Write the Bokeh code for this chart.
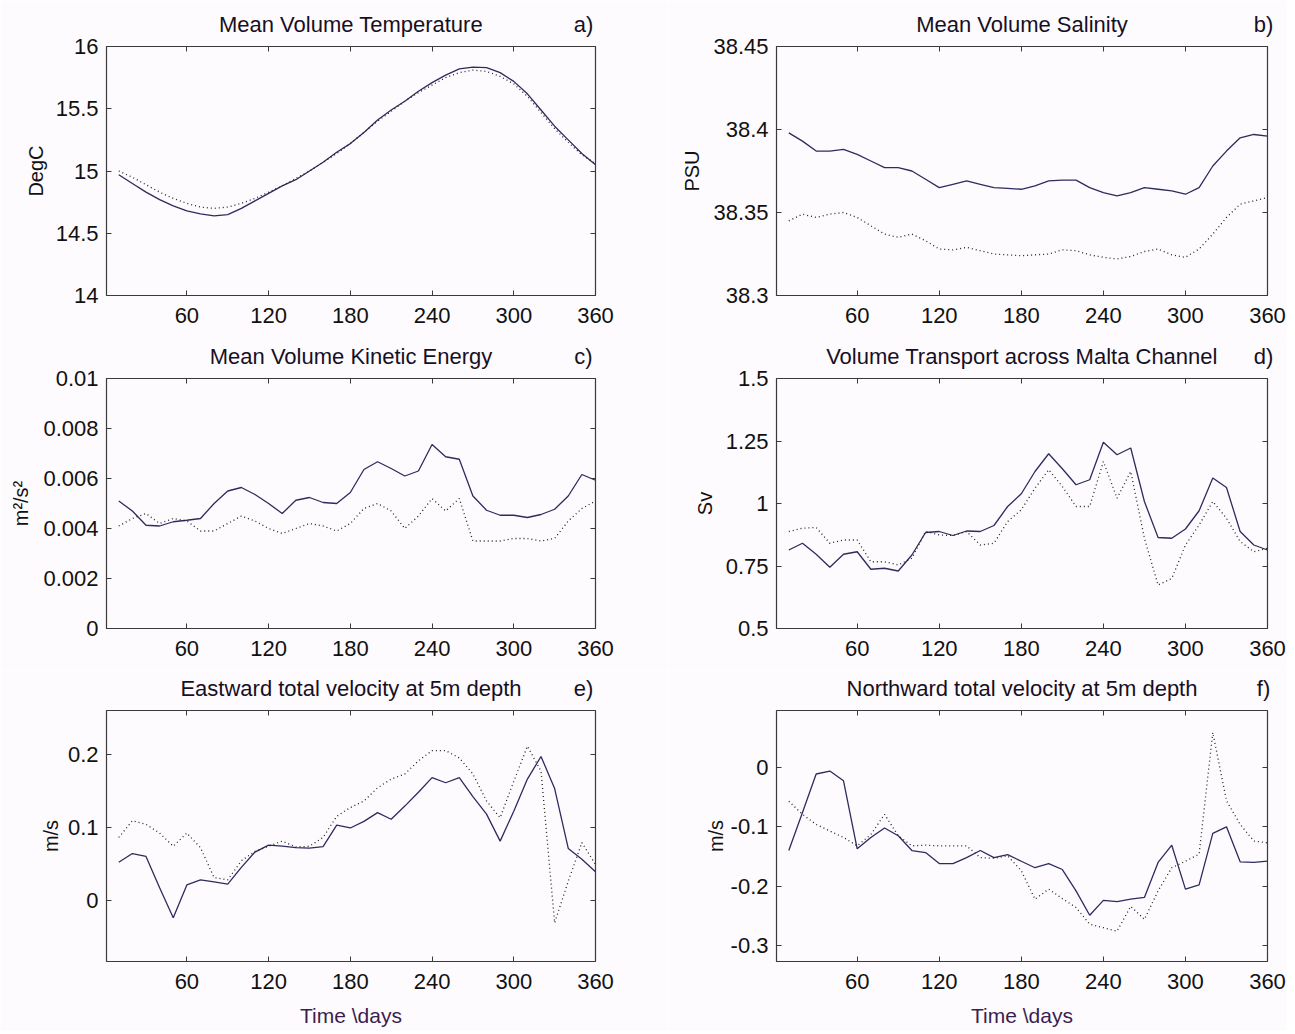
from bokeh.plotting import figure
from bokeh.layouts import gridplot
from bokeh.models import FixedTicker, LinearAxis, Range1d
from bokeh.embed import file_html
from bokeh.resources import INLINE

# ---------------- data ----------------
days = [10, 20, 30, 40, 50, 60, 70, 80, 90, 100, 110, 120, 130, 140, 150, 160, 170, 180,
        190, 200, 210, 220, 230, 240, 250, 260, 270, 280, 290, 300, 310, 320, 330, 340, 350, 360]
x_ticks = [60, 120, 180, 240, 300, 360]
x_tick_labels = ["60", "120", "180", "240", "300", "360"]

temp_solid = [14.97, 14.90, 14.83, 14.77, 14.72, 14.68, 14.655, 14.64, 14.65, 14.70, 14.76, 14.82,
              14.88, 14.93, 15.00, 15.07, 15.15, 15.22, 15.31, 15.41, 15.49, 15.56, 15.64, 15.71,
              15.77, 15.82, 15.835, 15.83, 15.79, 15.72, 15.62, 15.49, 15.36, 15.25, 15.14, 15.05]
temp_dotted = [15.00, 14.95, 14.89, 14.83, 14.78, 14.74, 14.71, 14.70, 14.71, 14.74, 14.78, 14.83,
               14.88, 14.94, 15.00, 15.07, 15.14, 15.22, 15.31, 15.40, 15.48, 15.56, 15.63, 15.69,
               15.75, 15.79, 15.81, 15.80, 15.76, 15.70, 15.60, 15.47, 15.34, 15.23, 15.13, 15.06]
temp_ticks = [14, 14.5, 15, 15.5, 16]
temp_tick_labels = ["14", "14.5", "15", "15.5", "16"]

sal_solid = [38.398, 38.393, 38.387, 38.387, 38.388, 38.385, 38.381, 38.377, 38.377, 38.375, 38.370, 38.365,
             38.367, 38.369, 38.367, 38.365, 38.3645, 38.364, 38.366, 38.369, 38.3695, 38.3695, 38.365, 38.362,
             38.360, 38.362, 38.365, 38.364, 38.363, 38.361, 38.365, 38.378, 38.387, 38.395, 38.397, 38.396]
sal_dotted = [38.345, 38.349, 38.347, 38.349, 38.350, 38.347, 38.342, 38.337, 38.335, 38.337, 38.333, 38.328,
              38.3275, 38.329, 38.327, 38.325, 38.3245, 38.324, 38.3245, 38.325, 38.3275, 38.327, 38.3245, 38.323,
              38.322, 38.3235, 38.3265, 38.328, 38.3245, 38.323, 38.328, 38.337, 38.347, 38.355, 38.357, 38.359]
sal_ticks = [38.3, 38.35, 38.4, 38.45]
sal_tick_labels = ["38.3", "38.35", "38.4", "38.45"]

ke_solid = [0.0051, 0.0047, 0.00413, 0.0041, 0.00427, 0.00433, 0.0044, 0.0050, 0.0055, 0.00564, 0.00536, 0.0050,
            0.0046, 0.00513, 0.00524, 0.00504, 0.0050, 0.00544, 0.00636, 0.00667, 0.0064, 0.0061, 0.0063, 0.00736,
            0.00687, 0.00677, 0.0053, 0.00473, 0.00453, 0.00453, 0.00444, 0.00456, 0.00477, 0.0053, 0.00616, 0.00593]
ke_dotted = [0.0041, 0.0044, 0.0046, 0.0042, 0.0044, 0.0043, 0.0039, 0.0039, 0.0042, 0.0045, 0.0043, 0.0040,
             0.0038, 0.0040, 0.0042, 0.0041, 0.0039, 0.0042, 0.0048, 0.0050, 0.0047, 0.0040, 0.0045, 0.0052,
             0.0047, 0.0052, 0.0035, 0.0035, 0.0035, 0.0036, 0.0036, 0.0035, 0.0036, 0.0043, 0.0048, 0.0051]
ke_ticks = [0, 0.002, 0.004, 0.006, 0.008, 0.01]
ke_tick_labels = ["0", "0.002", "0.004", "0.006", "0.008", "0.01"]

tr_solid = [0.814, 0.841, 0.797, 0.745, 0.797, 0.807, 0.737, 0.741, 0.730, 0.794, 0.884, 0.888,
            0.872, 0.890, 0.888, 0.912, 0.988, 1.039, 1.128, 1.199, 1.139, 1.075, 1.095, 1.245,
            1.195, 1.222, 1.008, 0.864, 0.861, 0.898, 0.971, 1.102, 1.064, 0.888, 0.834, 0.814]
tr_dotted = [0.888, 0.901, 0.904, 0.841, 0.854, 0.854, 0.767, 0.767, 0.754, 0.781, 0.888, 0.874,
             0.872, 0.888, 0.834, 0.841, 0.928, 0.975, 1.061, 1.135, 1.068, 0.988, 0.988, 1.168,
             1.021, 1.128, 0.861, 0.674, 0.700, 0.834, 0.914, 1.008, 0.941, 0.848, 0.807, 0.821]
tr_ticks = [0.5, 0.75, 1, 1.25, 1.5]
tr_tick_labels = ["0.5", "0.75", "1", "1.25", "1.5"]

u_solid = [0.052, 0.064, 0.060, 0.017, -0.024, 0.021, 0.028, 0.025, 0.022, 0.045, 0.066, 0.0755,
           0.074, 0.072, 0.0715, 0.0735, 0.103, 0.099, 0.108, 0.120, 0.111, 0.129, 0.148, 0.168,
           0.161, 0.168, 0.142, 0.118, 0.081, 0.122, 0.166, 0.197, 0.153, 0.071, 0.056, 0.039]
u_dotted = [0.086, 0.109, 0.104, 0.092, 0.074, 0.092, 0.072, 0.031, 0.028, 0.054, 0.067, 0.074,
            0.081, 0.073, 0.074, 0.086, 0.115, 0.127, 0.136, 0.154, 0.166, 0.173, 0.191, 0.205,
            0.205, 0.195, 0.173, 0.136, 0.113, 0.163, 0.211, 0.177, -0.031, 0.026, 0.079, 0.049]
u_ticks = [0, 0.1, 0.2]
u_tick_labels = ["0", "0.1", "0.2"]

v_solid = [-0.140, -0.076, -0.011, -0.006, -0.0225, -0.137, -0.118, -0.102, -0.115, -0.140, -0.1435, -0.162,
           -0.162, -0.152, -0.140, -0.152, -0.147, -0.158, -0.169, -0.162, -0.172, -0.208, -0.249, -0.224,
           -0.226, -0.222, -0.219, -0.160, -0.131, -0.205, -0.198, -0.111, -0.100, -0.159, -0.160, -0.158]
v_dotted = [-0.057, -0.079, -0.096, -0.107, -0.118, -0.132, -0.113, -0.079, -0.115, -0.132, -0.131, -0.132,
            -0.132, -0.132, -0.152, -0.153, -0.149, -0.174, -0.222, -0.205, -0.221, -0.236, -0.264, -0.270,
            -0.276, -0.234, -0.256, -0.208, -0.169, -0.158, -0.146, 0.059, -0.056, -0.096, -0.124, -0.127]
v_ticks = [-0.3, -0.2, -0.1, 0]
v_tick_labels = ["-0.3", "-0.2", "-0.1", "0"]

# ---------------- style ----------------
BG = "#fefbfe"
FRAME = "#3a3a3a"
SOLID = "#2c2c5e"
DOTTED = "#222222"
LETTER = "#3b1d50"
FONT = "Liberation Sans"
TICK_FS = "22px"
TITLE_FS = "22px"
X_MIN, X_MAX = 1, 360


def make_panel(title, letter, ylabel, yr, yticks, ylabels, solid, dotted,
               left_col, row_idx, fh, ylabel_standoff):
    if left_col:
        fw, bl, br = 489, 106, 73
    else:
        fw, bl, br = 491, 108, 20
    bt = (46, 39, 39)[row_idx]
    bb = (44, 43, 70)[row_idx]
    bottom_row = row_idx == 2
    p = figure(frame_width=fw, frame_height=fh, x_range=Range1d(X_MIN, X_MAX), y_range=Range1d(*yr),
               output_backend="svg", toolbar_location=None, title=None,
               min_border_left=bl, min_border_right=br, min_border_top=bt, min_border_bottom=bb,
               background_fill_color=BG, border_fill_color=BG,
               outline_line_color=FRAME, outline_line_width=1.2)
    p.xgrid.visible = False
    p.ygrid.visible = False

    xa = p.below[0]
    ya = p.left[0]
    for ax, tks, lbls in ((xa, x_ticks, x_tick_labels), (ya, yticks, ylabels)):
        ax.ticker = FixedTicker(ticks=tks)
        ax.major_label_overrides = dict(zip(tks, lbls))
        ax.major_tick_in = 5
        ax.major_tick_out = 0
        ax.minor_tick_line_color = None
        ax.axis_line_color = None
        ax.major_tick_line_color = FRAME
        ax.major_label_text_font = FONT
        ax.major_label_text_font_size = TICK_FS
        ax.major_label_text_color = "#111111"
    xa.major_label_standoff = 12
    ya.major_label_standoff = 8
    ya.axis_label = ylabel
    ya.axis_label_text_font = FONT
    ya.axis_label_text_font_size = "20px"
    ya.axis_label_text_font_style = "normal"
    ya.axis_label_text_color = "#111111"
    ya.axis_label_standoff = ylabel_standoff
    if bottom_row:
        xa.axis_label = "Time \\days"
        xa.axis_label_text_font = FONT
        xa.axis_label_text_font_size = "21px"
        xa.axis_label_text_font_style = "normal"
        xa.axis_label_text_color = LETTER
        xa.axis_label_standoff = 12

    # mirrored ticks on top and right (box on)
    for place, tks in (("right", yticks), ("above", x_ticks)):
        m = LinearAxis(ticker=FixedTicker(ticks=tks),
                       major_label_overrides={t: "" for t in tks},
                       major_tick_in=5, major_tick_out=0,
                       minor_tick_line_color=None, axis_line_color=None,
                       major_tick_line_color=FRAME, major_label_standoff=0)
        p.add_layout(m, place)

    # title (centred over the frame) and panel letter (at the right end), on one line
    px_per_day = fw / (X_MAX - X_MIN)
    title_pos = (X_MIN + X_MAX) / 2
    letter_pos = X_MAX - (12 if left_col else 4) / px_per_day
    head = LinearAxis(ticker=FixedTicker(ticks=[title_pos, letter_pos]),
                      major_label_overrides={title_pos: title, letter_pos: letter},
                      major_tick_line_color=None, minor_tick_line_color=None, axis_line_color=None,
                      major_tick_in=0, major_tick_out=0, major_label_standoff=10,
                      major_label_text_font=FONT, major_label_text_font_size=TITLE_FS,
                      major_label_text_color="#17101e")
    p.add_layout(head, "above")

    p.line(days, solid, line_color=SOLID, line_width=1.3)
    p.line(days, dotted, line_color=DOTTED, line_width=1.3, line_dash="1 3")
    return p


pa = make_panel("Mean Volume Temperature", "a)", "DegC", (14, 16), temp_ticks, temp_tick_labels,
                temp_solid, temp_dotted, True, 0, 249, 6)
pb = make_panel("Mean Volume Salinity", "b)", "PSU", (38.3, 38.45), sal_ticks, sal_tick_labels,
                sal_solid, sal_dotted, False, 0, 249, 7)
pc = make_panel("Mean Volume Kinetic Energy", "c)", "m\u00b2/s\u00b2", (0, 0.01), ke_ticks, ke_tick_labels,
                ke_solid, ke_dotted, True, 1, 250, 8)
pd_ = make_panel("Volume Transport across Malta Channel", "d)", "Sv", (0.5, 1.5), tr_ticks, tr_tick_labels,
                 tr_solid, tr_dotted, False, 1, 250, 7)
pe = make_panel("Eastward total velocity at 5m depth", "e)", "m/s", (-0.084, 0.26), u_ticks, u_tick_labels,
                u_solid, u_dotted, True, 2, 251, 3)
pf = make_panel("Northward total velocity at 5m depth", "f)", "m/s", (-0.327, 0.096), v_ticks, v_tick_labels,
                v_solid, v_dotted, False, 2, 251, 1)

grid = gridplot([[pa, pb], [pc, pd_], [pe, pf]], toolbar_location=None)

open("out.html", "w").write(file_html(grid, INLINE))
